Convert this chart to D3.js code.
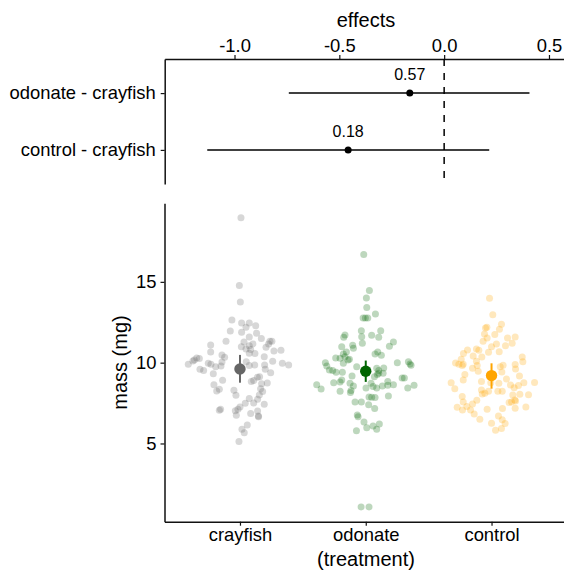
<!DOCTYPE html>
<html>
<head>
<meta charset="utf-8">
<script src="https://cdn.jsdelivr.net/npm/d3@7"></script>
<style>
  body { margin: 0; background: #fff; }
  text { font-family: "Liberation Sans", Arial, sans-serif; }
</style>
</head>
<body>
<div id="chart"></div>
<script>
// Contrasts (top panel)
const contrasts = ["odonate - crayfish", "control - crayfish"];
const contrastEstimate = [-0.164, -0.458];
const contrastLower = [-0.741, -1.130];
const contrastUpper = [0.407, 0.215];
const contrastP = ["0.57", "0.18"];
const effectTicks = [-1.0, -0.5, 0.0, 0.5];
const effectDomain = [-1.333, 0.586];

// Treatments (bottom panel)
const groups = ["crayfish", "odonate", "control"];
const groupMean = [9.61, 9.47, 9.20];
const groupLower = [8.76, 8.81, 8.39];
const groupUpper = [10.48, 10.13, 9.96];
const massTicks = [5, 10, 15];
const massDomain = [0.16, 19.86];

// raw points: [jitter (category units), mass (mg)]
const crayfishPoints = [
  [0.008,18.97],[-0.005,14.77],[0.003,13.76],[-0.064,12.64],[0.013,12.45],[0.074,12.45],
  [0.125,12.29],[0.048,12.19],[-0.077,11.96],[0.013,11.88],[0.132,11.82],[0.074,11.59],
  [0.170,11.49],[-0.111,11.32],[0.032,11.28],[0.238,11.32],[0.254,11.32],[-0.233,11.10],
  [0.011,10.99],[0.074,11.05],[0.103,11.16],[0.228,11.16],[0.207,10.95],[0.048,10.85],
  [0.085,10.81],[0.270,10.72],[0.326,10.77],[-0.233,10.66],[-0.143,10.48],[-0.122,10.33],
  [0.074,10.58],[0.119,10.56],[0.193,10.37],[-0.344,10.29],[-0.363,10.17],[-0.323,10.25],
  [-0.374,10.11],[-0.411,9.90],[-0.318,9.59],[-0.289,9.51],[-0.252,9.96],[-0.231,9.90],
  [-0.193,9.75],[-0.151,9.80],[-0.143,10.04],[0.050,10.06],[0.074,9.82],[0.117,9.86],
  [0.196,9.86],[0.260,10.08],[0.201,9.59],[0.244,9.38],[0.337,9.96],[0.387,9.86],
  [-0.212,9.32],[0.138,9.09],[0.156,9.13],[-0.138,8.91],[0.090,8.83],[0.109,8.89],
  [0.172,8.70],[0.217,8.74],[-0.207,8.64],[-0.164,8.35],[-0.185,8.25],[-0.048,8.29],
  [-0.032,7.98],[0.164,8.39],[0.180,8.21],[0.154,8.00],[0.074,7.78],[0.140,7.73],
  [0.193,7.42],[0.042,7.49],[0.109,7.51],[0.000,7.26],[-0.016,7.11],[-0.037,7.03],
  [-0.154,7.11],[-0.164,7.05],[-0.029,6.74],[0.085,6.85],[0.140,7.01],[0.146,6.70],
  [0.148,6.66],[0.058,6.14],[0.016,5.88],[0.034,5.67],[-0.008,5.12]
];
const odonatePoints = [
  [-0.016,16.69],[0.029,14.46],[0.005,14.00],[0.008,13.41],[0.077,13.01],[-0.021,12.77],
  [-0.003,12.77],[0.016,12.77],[-0.035,11.98],[0.119,11.98],[-0.165,11.71],[-0.175,11.57],
  [-0.032,11.61],[0.047,11.69],[0.103,11.57],[0.220,11.28],[0.188,11.01],[-0.027,11.20],
  [-0.104,11.08],[-0.098,10.89],[-0.191,10.99],[-0.154,10.66],[-0.178,10.54],[-0.165,10.37],
  [-0.130,10.21],[-0.141,10.17],[-0.239,10.29],[-0.204,10.27],[0.095,10.66],[0.074,10.54],
  [0.124,10.46],[-0.321,10.00],[-0.310,9.80],[-0.178,9.96],[-0.072,9.75],[0.251,10.00],
  [0.339,10.06],[0.352,9.92],[0.360,9.84],[-0.289,9.55],[-0.263,9.51],[-0.236,9.40],
  [-0.186,9.40],[-0.109,9.18],[0.087,9.65],[0.103,9.51],[0.143,9.67],[0.138,9.34],
  [0.103,9.34],[0.092,9.26],[0.069,9.13],[0.289,9.05],[0.307,9.05],[-0.390,8.64],
  [-0.355,8.37],[-0.255,8.76],[-0.204,8.81],[-0.191,8.93],[-0.125,8.72],[-0.098,8.56],
  [0.042,8.72],[0.058,8.52],[0.087,8.44],[0.002,8.44],[0.132,8.56],[0.175,8.83],
  [0.175,8.60],[0.220,8.64],[-0.122,8.15],[-0.117,8.27],[-0.204,8.23],[0.334,8.44],
  [0.384,8.60],[0.047,7.86],[0.074,7.84],[0.026,7.88],[0.180,7.94],[-0.085,7.57],
  [-0.035,7.57],[0.023,7.40],[0.071,7.16],[-0.067,6.76],[-0.061,6.66],[-0.014,6.33],
  [0.008,5.98],[0.058,6.08],[0.087,5.88],[0.108,6.21],[-0.074,5.79],[-0.037,1.07],
  [0.026,1.07]
];
const controlPoints = [
  [-0.016,13.98],[0.010,12.97],[0.079,12.37],[0.063,12.06],[-0.048,12.15],[-0.037,12.19],
  [-0.056,11.78],[-0.035,11.53],[0.026,11.74],[-0.067,11.32],[0.127,11.53],[0.188,11.59],
  [0.164,11.20],[0.111,11.05],[0.039,11.16],[0.000,10.99],[-0.120,10.85],[-0.101,10.77],
  [-0.191,10.79],[-0.223,10.56],[-0.146,10.41],[-0.024,10.64],[0.061,10.68],[-0.077,10.35],
  [-0.241,10.21],[-0.286,9.98],[-0.260,9.90],[-0.225,9.90],[-0.233,9.82],[-0.120,10.08],
  [-0.114,9.82],[-0.106,9.47],[-0.151,9.65],[0.092,9.84],[0.069,9.75],[0.082,9.42],
  [0.188,9.88],[0.191,9.61],[0.244,10.35],[0.249,10.06],[-0.212,9.26],[-0.225,8.93],
  [-0.321,8.76],[-0.292,8.39],[-0.080,8.83],[-0.006,8.76],[0.058,8.72],[0.119,8.99],
  [0.151,8.62],[0.222,9.18],[0.257,8.76],[0.180,8.45],[0.214,8.58],[0.225,8.04],
  [0.294,8.02],[0.342,8.78],[-0.080,8.31],[-0.053,8.10],[-0.074,8.06],[-0.024,8.23],
  [0.050,8.23],[0.085,8.23],[0.169,8.00],[0.185,7.69],[0.191,7.63],[0.159,7.57],
  [0.140,7.53],[-0.233,7.90],[-0.225,7.57],[-0.273,7.24],[-0.231,7.07],[-0.196,7.28],
  [-0.151,7.44],[-0.117,7.67],[-0.167,7.07],[-0.138,6.83],[-0.035,7.11],[0.087,7.16],
  [0.188,7.18],[0.273,7.26],[0.055,6.70],[0.085,6.47],[0.108,6.23],[-0.093,6.50],
  [0.000,6.25],[0.079,5.92],[0.032,5.82]
];

const groupColors = ["#666666", "#006400", "#FFA500"];
const width = 564, height = 570;

const svg = d3.select("#chart").append("svg")
  .attr("width", width)
  .attr("height", height);

function styleAxis(g) {
  g.attr("color", "#111");
  g.select(".domain").attr("stroke-width", 1.5);
  g.selectAll(".tick line").attr("stroke-width", 1.2);
  g.selectAll(".tick text").attr("fill", "#000").style("font-size", "18.4px");
}

function buildEffects() {
  const x = d3.scaleLinear().domain(effectDomain).range([164.7, 567]);
  const y = d3.scalePoint().domain(contrasts).range([59, 184]).padding(0.6);

  // axes
  svg.append("g")
    .attr("transform", "translate(0,59)")
    .call(d3.axisTop(x).tickValues(effectTicks).tickFormat(d => d.toFixed(1))
      .tickSize(4).tickPadding(3.5).tickSizeOuter(0))
    .call(styleAxis);

  svg.append("g")
    .attr("transform", "translate(164.7,0)")
    .call(d3.axisLeft(y).tickSize(4).tickPadding(5).tickSizeOuter(0))
    .call(styleAxis);

  svg.append("text")
    .attr("x", 366).attr("y", 26.5)
    .attr("text-anchor", "middle")
    .style("font-size", "20px")
    .text("effects");

  // zero line
  svg.append("line")
    .attr("x1", x(0)).attr("x2", x(0))
    .attr("y1", 59).attr("y2", 184)
    .attr("stroke", "#000")
    .attr("stroke-width", 1.5)
    .attr("stroke-dasharray", "7,7");

  const rows = contrasts.map((c, i) => ({
    label: c, est: contrastEstimate[i], lo: contrastLower[i], hi: contrastUpper[i], p: contrastP[i]
  }));

  const row = svg.selectAll(".contrast")
    .data(rows)
    .enter().append("g")
    .attr("class", "contrast");

  row.append("line")
    .attr("x1", d => x(d.lo)).attr("x2", d => x(d.hi))
    .attr("y1", d => y(d.label)).attr("y2", d => y(d.label))
    .attr("stroke", "#000")
    .attr("stroke-width", 1.5);

  row.append("circle")
    .attr("cx", d => x(d.est))
    .attr("cy", d => y(d.label))
    .attr("r", 3.5)
    .attr("fill", "#000");

  row.append("text")
    .attr("x", d => x(d.est))
    .attr("y", d => y(d.label) - 13)
    .attr("text-anchor", "middle")
    .style("font-size", "16px")
    .text(d => d.p);
}

function buildMass() {
  const x = d3.scalePoint().domain(groups).range([164.5, 567]).padding(0.6);
  const y = d3.scaleLinear().domain(massDomain).range([521.7, 203.3]);
  const step = x.step();

  const allPoints = [crayfishPoints, odonatePoints, controlPoints];

  allPoints.forEach((pts, gi) => {
    svg.append("g").selectAll("circle")
      .data(pts)
      .enter().append("circle")
      .attr("cx", d => x(groups[gi]) + d[0] * step)
      .attr("cy", d => y(d[1]))
      .attr("r", 3.5)
      .attr("fill", groupColors[gi])
      .attr("fill-opacity", 0.26);
  });

  // mean + interval
  const means = groups.map((g, i) => ({ g: g, m: groupMean[i], lo: groupLower[i], hi: groupUpper[i], c: groupColors[i] }));

  svg.selectAll(".meanbar")
    .data(means)
    .enter().append("line")
    .attr("class", "meanbar")
    .attr("x1", d => x(d.g)).attr("x2", d => x(d.g))
    .attr("y1", d => y(d.lo)).attr("y2", d => y(d.hi))
    .attr("stroke", d => d.c)
    .attr("stroke-width", 2);

  svg.selectAll(".meanpt")
    .data(means)
    .enter().append("circle")
    .attr("class", "meanpt")
    .attr("cx", d => x(d.g))
    .attr("cy", d => y(d.m))
    .attr("r", 5.7)
    .attr("fill", d => d.c);

  // axes
  svg.append("g")
    .attr("transform", "translate(164.5,0)")
    .call(d3.axisLeft(y).tickValues(massTicks).tickSize(4).tickPadding(4).tickSizeOuter(0))
    .call(styleAxis);

  svg.append("g")
    .attr("transform", "translate(0,521.7)")
    .call(d3.axisBottom(x).tickSize(4).tickPadding(2.5).tickSizeOuter(0))
    .call(styleAxis);

  svg.append("text")
    .attr("transform", "translate(127,362.5) rotate(-90)")
    .attr("text-anchor", "middle")
    .style("font-size", "20px")
    .text("mass (mg)");

  svg.append("text")
    .attr("x", 366).attr("y", 566)
    .attr("text-anchor", "middle")
    .style("font-size", "20px")
    .text("(treatment)");
}

buildEffects();
buildMass();
</script>
</body>
</html>
